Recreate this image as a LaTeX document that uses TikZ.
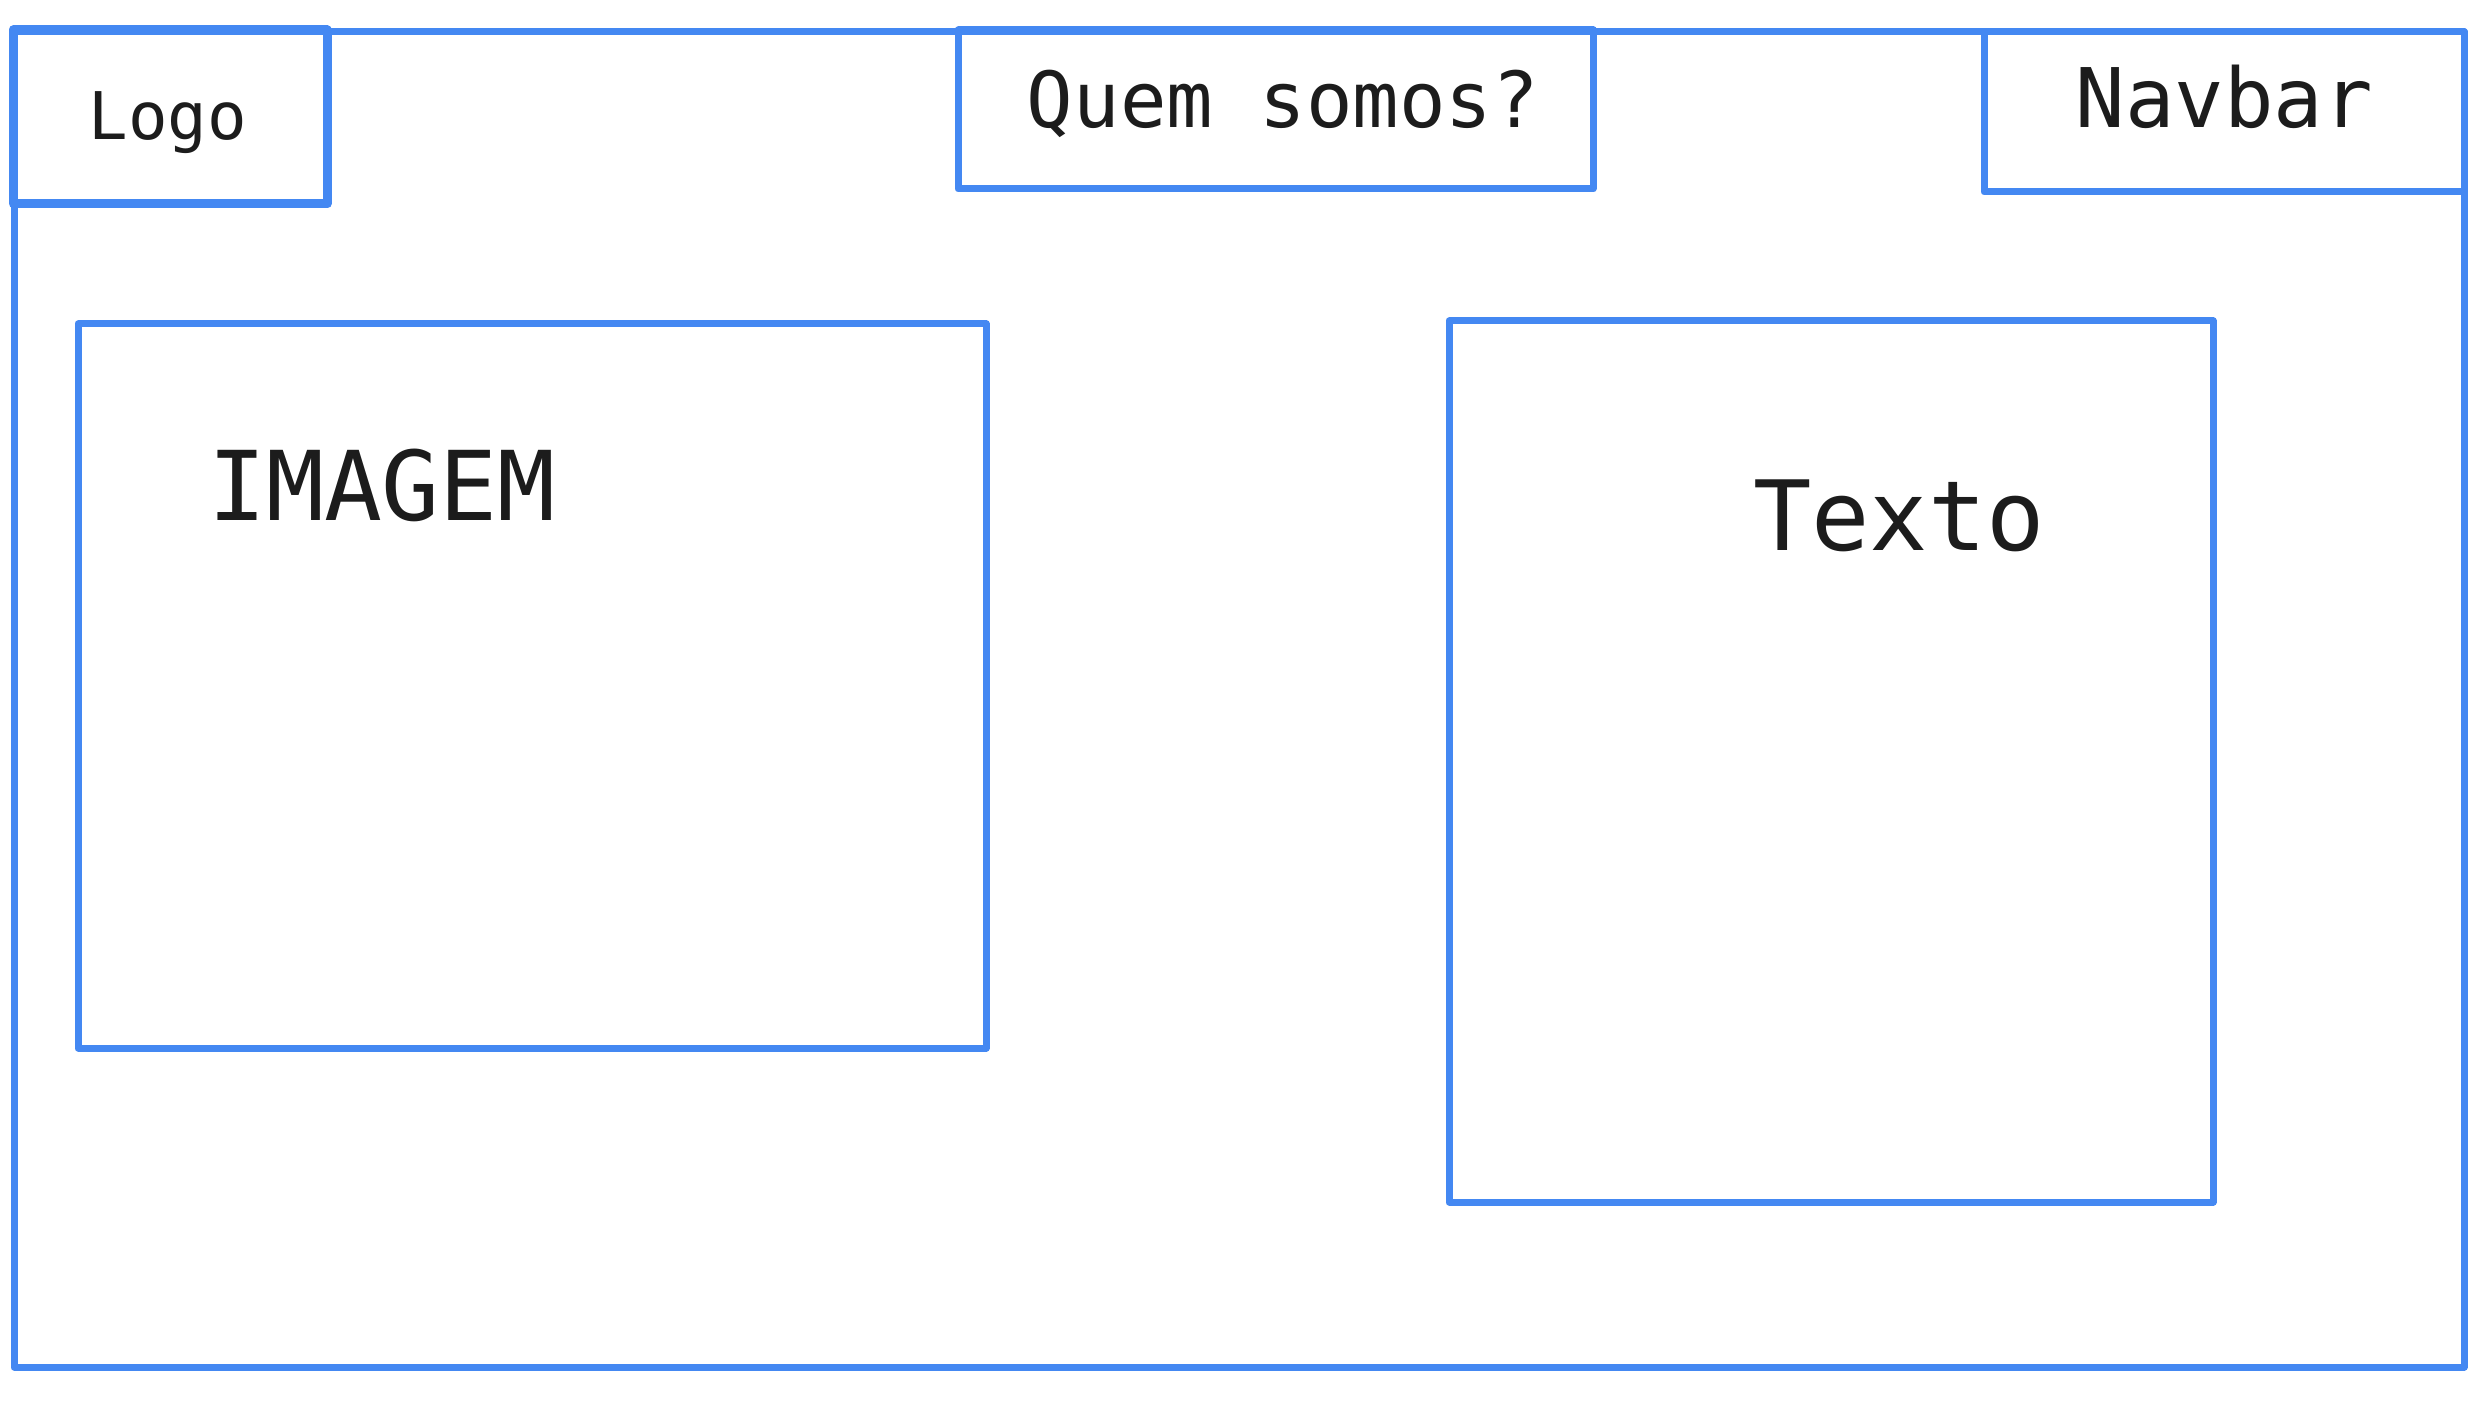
\documentclass[tikz,border=0pt]{standalone}
\usepackage{fontspec}
\setmonofont{DejaVu Sans Mono}
\usepackage{xcolor}
\definecolor{wireblue}{HTML}{4488F2}
\definecolor{inkgray}{HTML}{1C1C1C}
\tikzset{
  wire/.style={draw=wireblue, line width=0.7mm, line join=round, line cap=round},
  label/.style={inkgray, font=\ttfamily, anchor=base, inner sep=0pt}
}

\begin{document}
\begin{tikzpicture}[x=0.1mm, y=-0.1mm]
        \useasboundingbox (0,0) rectangle (2478,1423);

        % Page frame
        \draw[wire] (14,32) rectangle (2464,1367);

        % Header boxes
        \draw[wire, line width=0.9mm] (13,30) rectangle (327,204);
        \node[label, font=\ttfamily\fontsize{18.7}{20}\selectfont] (logo) at (168,140) {Logo};
        \draw[wire] (958,30) rectangle (1593,189);
        \node[label, font=\ttfamily\fontsize{22}{24}\selectfont] (quem) at (1283,128) {Quem somos?};
        \draw[wire] (1984,32) rectangle (2464,192);
        \node[label, font=\ttfamily\fontsize{23.4}{25}\selectfont] (navbar) at (2224,128) {Navbar};

        % Content blocks
        \draw[wire] (78,324) rectangle (986,1048);
        \node[label, font=\ttfamily\fontsize{27.4}{30}\selectfont] (imagem) at (382,521) {IMAGEM};
        \draw[wire] (1449,321) rectangle (2213,1202);
        \node[label, font=\ttfamily\fontsize{27.6}{30}\selectfont] (texto) at (1899,551) {Texto};

    \end{tikzpicture}
\end{document}
